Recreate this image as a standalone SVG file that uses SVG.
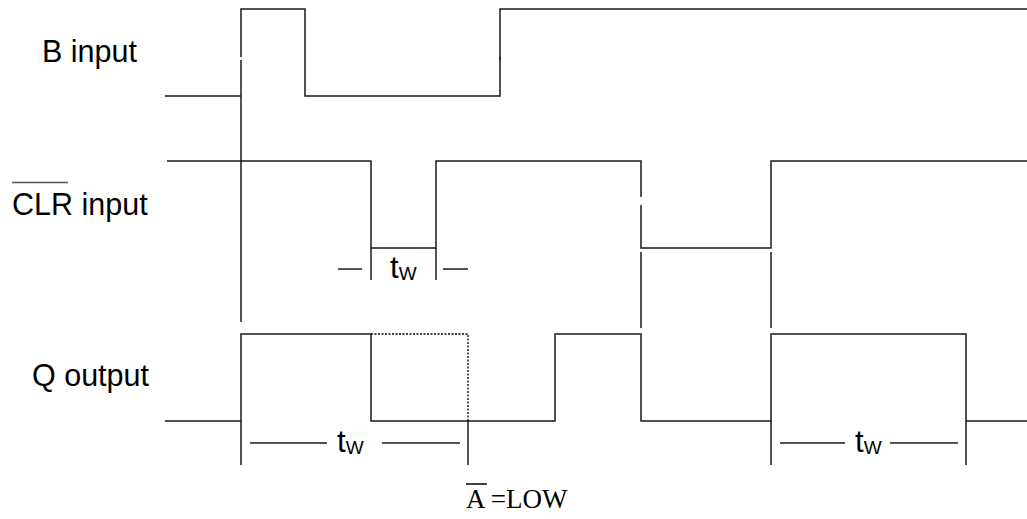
<svg xmlns="http://www.w3.org/2000/svg" width="1027" height="519" viewBox="0 0 1027 519">
<style>
.w{fill:none;stroke:#1a1a1a;stroke-width:1.5}
.d{fill:none;stroke:#000;stroke-width:1.3;stroke-dasharray:2 1.5}
.lbl{font-family:"Liberation Sans",Arial,sans-serif;font-size:30.5px;fill:#000}
.t{font-family:"Liberation Sans",Arial,sans-serif;font-size:31px;fill:#000}
.sub{font-size:19px}
.tm{font-family:"Liberation Serif","Times New Roman",serif;font-size:27px;fill:#000}
</style>
<rect width="1027" height="519" fill="#fff"/>
<g id="labels">
<text class="lbl" x="42" y="62">B input</text>
<text class="lbl" x="12" y="215">CLR input</text>
<line x1="12" y1="182.5" x2="68" y2="182.5" stroke="#555" stroke-width="1.5"/>
<text class="lbl" x="32" y="386">Q output</text>
</g>
<g id="B-input">
<polyline class="w" points="165,96 241,96"/>
<polyline class="w" points="241,57 241,9 305,9 305,96 500,96 500,57"/>
<polyline class="w" points="500,60 500,9 1027,9"/>
<line class="w" x1="241" y1="60" x2="241" y2="322"/>
</g>
<g id="CLR-input">
<polyline class="w" points="167,161 371,161 371,248 436,248 436,161 641,161 641,197"/>
<polyline class="w" points="641,205 641,248 771,248 771,161 1027,161"/>
<line class="w" x1="371" y1="248" x2="371" y2="280"/>
<line class="w" x1="436" y1="248" x2="436" y2="280"/>
<line class="w" x1="641" y1="252" x2="641" y2="328"/>
<line class="w" x1="771" y1="252" x2="771" y2="328"/>
<line class="w" x1="338" y1="269" x2="362" y2="269"/>
<line class="w" x1="443" y1="269" x2="468" y2="269"/>
<text class="t" x="390" y="278">t<tspan class="sub" dy="2">W</tspan></text>
</g>
<g id="Q-output">
<polyline class="w" points="165,421 241,421 241,334 371,334 371,421 555,421 555,334 641,334 641,421 771,421 771,334 966,334 966,421 1027,421"/>
<polyline class="d" points="371,334 468,334 468,421"/>
<line class="w" x1="241" y1="421" x2="241" y2="465"/>
<line class="w" x1="468" y1="421" x2="468" y2="465"/>
<line class="w" x1="771" y1="421" x2="771" y2="465"/>
<line class="w" x1="966" y1="421" x2="966" y2="465"/>
<line class="w" x1="250" y1="443" x2="327" y2="443"/>
<line class="w" x1="382" y1="443" x2="460" y2="443"/>
<text class="t" x="337" y="452">t<tspan class="sub" dy="2">W</tspan></text>
<line class="w" x1="780" y1="443" x2="845" y2="443"/>
<line class="w" x1="890" y1="443" x2="958" y2="443"/>
<text class="t" x="855" y="452">t<tspan class="sub" dy="2">W</tspan></text>
</g>
<g id="note">
<text class="tm" x="466" y="508">A =LOW</text>
<line x1="466" y1="484" x2="487" y2="484" stroke="#000" stroke-width="1.5"/>
</g>
</svg>
